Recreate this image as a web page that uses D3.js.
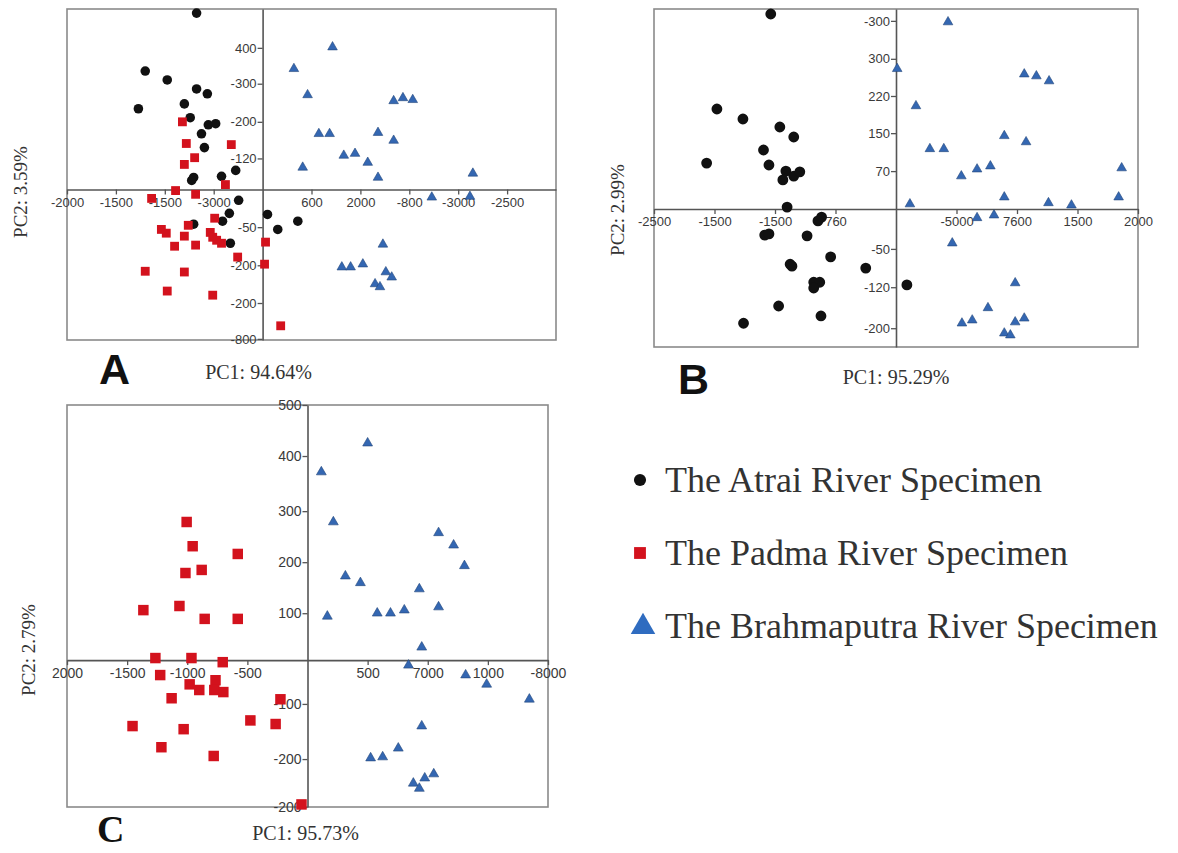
<!DOCTYPE html>
<html>
<head>
<meta charset="utf-8">
<script src="https://cdn.jsdelivr.net/npm/d3@7"></script>
<style>
  body { margin: 0; background: #fff; }
  .tick text { font-family: "Liberation Sans", Arial, sans-serif; fill: #3a3a3a; }
  .title { font-family: "Liberation Serif", "Times New Roman", serif; fill: #333; }
</style>
</head>
<body>
<div id="chart"></div>
<script>
// values are in tick steps, origin where the two axes cross

// panel A
var aXTickPos = [-4, -3, -2, -1, 1, 2, 3, 4, 5];
var aXTicks = ["-2000", "-1500", "-1500", "-3000", "600", "2000", "-800", "-3000", "-2500"];
var aYTickPos = [3.79, 2.83, 1.81, 0.83, -1.01, -2.03, -3.04, -4.0];
var aYTicks = ["400", "-300", "-200", "-120", "-50", "-200", "-200", "-800"];

var aAtrai = [[-1.35, 4.72], [-2.40, 3.17], [-1.95, 2.93], [-2.54, 2.16], [-1.35, 2.69], [-1.13, 2.56],
  [-1.60, 2.29], [-1.48, 1.92], [-1.11, 1.73], [-0.96, 1.76], [-1.25, 1.49], [-1.19, 1.12],
  [-0.55, 0.51], [-0.84, 0.35], [-1.41, 0.32], [-1.45, 0.24], [-0.49, -0.29], [-0.68, -0.64],
  [-0.82, -0.85], [-1.41, -0.93], [-0.66, -1.44], [0.10, -0.67], [0.31, -1.07], [0.72, -0.85]];
var aPadma = [[-1.64, 1.81], [-1.56, 1.23], [-1.39, 0.85], [-1.60, 0.67], [-0.64, 1.20], [-0.76, 0.13],
  [-1.78, -0.03], [-1.37, -0.13], [-2.27, -0.24], [-0.98, -0.77], [-1.52, -0.96], [-2.07, -1.07],
  [-1.97, -1.17], [-1.60, -1.25], [-1.07, -1.15], [-1.02, -1.28], [-0.94, -1.36], [-0.84, -1.44],
  [-1.80, -1.52], [-1.37, -1.49], [0.06, -1.41], [-0.51, -1.81], [0.04, -2.00], [-2.40, -2.19],
  [-1.60, -2.21], [-1.95, -2.72], [-1.02, -2.83], [0.37, -3.65]];
var aBrahma = [[1.43, 3.81], [0.64, 3.23], [0.92, 2.53], [2.68, 2.37], [2.87, 2.45], [3.07, 2.40],
  [1.15, 1.49], [1.37, 1.49], [2.36, 1.52], [2.68, 1.31], [1.66, 0.91], [1.89, 0.96],
  [2.15, 0.72], [0.82, 0.59], [2.36, 0.32], [4.30, 0.43], [3.46, -0.21], [4.24, -0.19],
  [2.46, -1.47], [1.62, -2.08], [1.80, -2.08], [2.05, -2.00], [2.52, -2.21], [2.64, -2.35],
  [2.30, -2.53], [2.40, -2.61]];

// panel B
var bXTickPos = [-4, -3, -2, -1, 1, 2, 3, 4];
var bXTicks = ["-2500", "-1500", "-1500", "760", "-5000", "7600", "1500", "2000"];
var bYTickPos = [4.91, 3.92, 2.95, 1.98, 0.99, -1.04, -2.04, -3.11];
var bYTicks = ["-300", "300", "220", "150", "70", "-50", "-120", "-200"];

var bAtrai = [[-2.07, 5.09], [-2.96, 2.61], [-2.53, 2.35], [-1.92, 2.14], [-1.69, 1.88], [-2.19, 1.54],
  [-3.13, 1.20], [-2.10, 1.15], [-1.82, 0.99], [-1.69, 0.86], [-1.59, 0.97], [-1.87, 0.76],
  [-1.80, 0.05], [-1.23, -0.21], [-1.29, -0.31], [-2.17, -0.68], [-2.10, -0.65], [-1.47, -0.70],
  [-1.08, -1.25], [-1.75, -1.44], [-1.72, -1.49], [-0.50, -1.54], [-1.36, -1.91], [-1.26, -1.91],
  [-1.36, -2.06], [0.18, -1.98], [-1.94, -2.53], [-1.24, -2.79], [-2.52, -2.98]];
var bBrahma = [[0.86, 4.88], [0.02, 3.66], [2.12, 3.52], [2.32, 3.47], [2.53, 3.34], [0.33, 2.69],
  [1.79, 1.91], [2.15, 1.75], [0.56, 1.57], [0.79, 1.57], [1.56, 1.12], [1.34, 1.04],
  [3.73, 1.07], [1.08, 0.86], [1.79, 0.31], [3.68, 0.31], [0.23, 0.13], [2.52, 0.16],
  [2.90, 0.10], [1.34, -0.23], [1.62, -0.16], [0.93, -0.89], [1.97, -1.93], [1.52, -2.58],
  [1.09, -2.98], [1.26, -2.90], [1.97, -2.95], [2.12, -2.85], [1.79, -3.24], [1.89, -3.29]];

// panel C
var cXTickPos = [-4, -3, -2, -1, 1, 2, 3, 4];
var cXTicks = ["2000", "-1500", "-1000", "-500", "500", "7000", "1000", "-8000"];
var cYTickPos = [4.95, 3.96, 2.89, 1.90, 0.91, -0.85, -1.92, -2.85];
var cYTicks = ["500", "400", "300", "200", "100", "-100", "-200", "-200"];

var cPadma = [[-2.01, 2.68], [-1.91, 2.21], [-1.16, 2.06], [-1.76, 1.75], [-2.03, 1.69], [-2.73, 0.97],
  [-2.13, 1.05], [-1.71, 0.80], [-1.16, 0.80], [-2.53, 0.04], [-1.93, 0.04], [-1.41, -0.04],
  [-2.45, -0.29], [-1.96, -0.47], [-1.80, -0.58], [-1.53, -0.39], [-1.55, -0.58], [-1.40, -0.62],
  [-2.26, -0.74], [-0.45, -0.76], [-0.95, -1.17], [-0.53, -1.24], [-2.91, -1.28], [-2.06, -1.34],
  [-2.43, -1.69], [-1.56, -1.86], [-0.10, -2.80]];
var cBrahma = [[1.00, 4.21], [0.23, 3.65], [0.43, 2.68], [2.18, 2.47], [2.43, 2.23], [2.61, 1.83],
  [0.63, 1.63], [0.88, 1.50], [1.86, 1.38], [0.33, 0.85], [1.16, 0.91], [1.38, 0.91],
  [1.61, 0.97], [2.18, 1.03], [1.90, 0.25], [1.68, -0.10], [2.63, -0.29], [2.98, -0.47],
  [3.69, -0.76], [1.90, -1.28], [1.51, -1.71], [1.05, -1.90], [1.25, -1.88], [1.76, -2.39],
  [1.86, -2.49], [1.95, -2.29], [2.10, -2.21]];

var legendLabels = ["The Atrai River Specimen", "The Padma River Specimen", "The Brahmaputra River Specimen"];

// marker styles
var blackFill = "#111111";
var redFill = "#d3121d";
var blueFill = "#3467b2";

var svg = d3.select("#chart")
  .append("svg")
  .attr("width", 1178)
  .attr("height", 853);

// draws one scatter panel
function drawPanel(p) {
  var x = d3.scaleLinear().domain(p.xDomain).range([p.left, p.right]);
  var y = d3.scaleLinear().domain(p.yDomain).range([p.bottom, p.top]);

  // frame
  svg.append("rect")
    .attr("x", p.left)
    .attr("y", p.top)
    .attr("width", p.right - p.left)
    .attr("height", p.bottom - p.top)
    .attr("fill", "none")
    .attr("stroke", "#8a8a8a")
    .attr("stroke-width", 1.6);

  var xAxis = d3.axisBottom(x)
    .tickValues(p.xTickPos)
    .tickFormat((d, i) => p.xTicks[i])
    .tickSize(5)
    .tickSizeOuter(0);

  var yAxis = d3.axisLeft(y)
    .tickValues(p.yTickPos)
    .tickFormat((d, i) => p.yTicks[i])
    .tickSize(5)
    .tickSizeOuter(0);

  var gx = svg.append("g")
    .attr("transform", `translate(0, ${y(0)})`)
    .call(xAxis);
  var gy = svg.append("g")
    .attr("transform", `translate(${x(0)}, 0)`)
    .call(yAxis);

  [gx, gy].forEach(function(g) {
    g.select(".domain").attr("stroke", "#555").attr("stroke-width", 1.6);
    g.selectAll(".tick line").attr("stroke", "#555").attr("stroke-width", 1.3);
    g.selectAll(".tick text").style("font-size", p.fontSize + "px");
  });
  gy.selectAll(".tick text").attr("x", -6);

  // series
  p.series.forEach(function(s) {
    svg.append("g")
      .selectAll("path")
      .data(s.data)
      .enter()
      .append("path")
      .attr("transform", d => `translate(${x(d[0])}, ${y(d[1])})`)
      .attr("d", d3.symbol().type(s.type).size(s.size))
      .attr("fill", s.color)
      .attr("stroke", s.type === d3.symbolTriangle ? "#24467a" : "none")
      .attr("stroke-width", 0.6);
  });

  // axis titles
  svg.append("text")
    .attr("class", "title")
    .attr("x", (p.left + p.right) / 2 + p.pc1Dx)
    .attr("y", p.pc1Y)
    .attr("text-anchor", "middle")
    .style("font-size", "20px")
    .text(p.pc1);

  svg.append("text")
    .attr("class", "title")
    .attr("transform", `translate(${p.pc2X}, ${p.pc2Y}) rotate(-90)`)
    .attr("text-anchor", "middle")
    .attr("dy", "0.35em")
    .style("font-size", "19px")
    .text(p.pc2);

  // panel letter
  svg.append("text")
    .attr("x", p.letterX)
    .attr("y", p.letterY)
    .style("font-family", p.letterFont)
    .style("font-weight", "bold")
    .style("font-size", p.letterSize + "px")
    .attr("fill", "#111")
    .text(p.letter);
}

drawPanel({
  left: 67, right: 556, top: 9, bottom: 340,
  xDomain: [-4, 6], yDomain: [-4.03, 4.83],
  xTickPos: aXTickPos, xTicks: aXTicks, yTickPos: aYTickPos, yTicks: aYTicks,
  fontSize: 13,
  series: [
    {data: aAtrai, type: d3.symbolCircle, size: 72, color: blackFill},
    {data: aPadma, type: d3.symbolSquare, size: 78, color: redFill},
    {data: aBrahma, type: d3.symbolTriangle, size: 40, color: blueFill}
  ],
  pc1: "PC1: 94.64%", pc1Dx: -53, pc1Y: 379,
  pc2: "PC2: 3.59%", pc2X: 20, pc2Y: 192,
  letter: "A", letterX: 99, letterY: 384, letterSize: 43, letterFont: "'Liberation Sans', Arial, sans-serif"
});

drawPanel({
  left: 654, right: 1138, top: 9, bottom: 347,
  xDomain: [-4, 4], yDomain: [-3.60, 5.22],
  xTickPos: bXTickPos, xTicks: bXTicks, yTickPos: bYTickPos, yTicks: bYTicks,
  fontSize: 13,
  series: [
    {data: bAtrai, type: d3.symbolCircle, size: 92, color: blackFill},
    {data: bBrahma, type: d3.symbolTriangle, size: 40, color: blueFill}
  ],
  pc1: "PC1: 95.29%", pc1Dx: 0, pc1Y: 384,
  pc2: "PC2: 2.99%", pc2X: 617, pc2Y: 210,
  letter: "B", letterX: 678, letterY: 394, letterSize: 43, letterFont: "'Liberation Sans', Arial, sans-serif"
});

drawPanel({
  left: 67, right: 548, top: 405, bottom: 807,
  xDomain: [-4, 4], yDomain: [-2.85, 4.95],
  xTickPos: cXTickPos, xTicks: cXTicks, yTickPos: cYTickPos, yTicks: cYTicks,
  fontSize: 14,
  series: [
    {data: cPadma, type: d3.symbolSquare, size: 110, color: redFill},
    {data: cBrahma, type: d3.symbolTriangle, size: 42, color: blueFill}
  ],
  pc1: "PC1: 95.73%", pc1Dx: -2, pc1Y: 840,
  pc2: "PC2: 2.79%", pc2X: 28, pc2Y: 650,
  letter: "C", letterX: 97, letterY: 842, letterSize: 38, letterFont: "'Liberation Serif', 'Times New Roman', serif"
});

// legend
var legendTypes = [d3.symbolCircle, d3.symbolSquare, d3.symbolTriangle];
var legendSizes = [115, 140, 260];
var legendColors = [blackFill, redFill, "#2f6cc0"];
var legendY = d3.scalePoint().domain(legendLabels).range([480, 626]);

var legend = svg.append("g");
legend.selectAll("path")
  .data(legendLabels)
  .enter()
  .append("path")
  .attr("transform", (d, i) => `translate(${i === 2 ? 643 : 640}, ${legendY(d) + (i === 2 ? 1 : 0)})`)
  .attr("d", (d, i) => d3.symbol().type(legendTypes[i]).size(legendSizes[i])())
  .attr("fill", (d, i) => legendColors[i]);

legend.selectAll("text")
  .data(legendLabels)
  .enter()
  .append("text")
  .attr("class", "title")
  .attr("x", 665)
  .attr("y", d => legendY(d) + 12)
  .style("font-size", "36px")
  .attr("fill", "#222")
  .text(d => d);
</script>
</body>
</html>
